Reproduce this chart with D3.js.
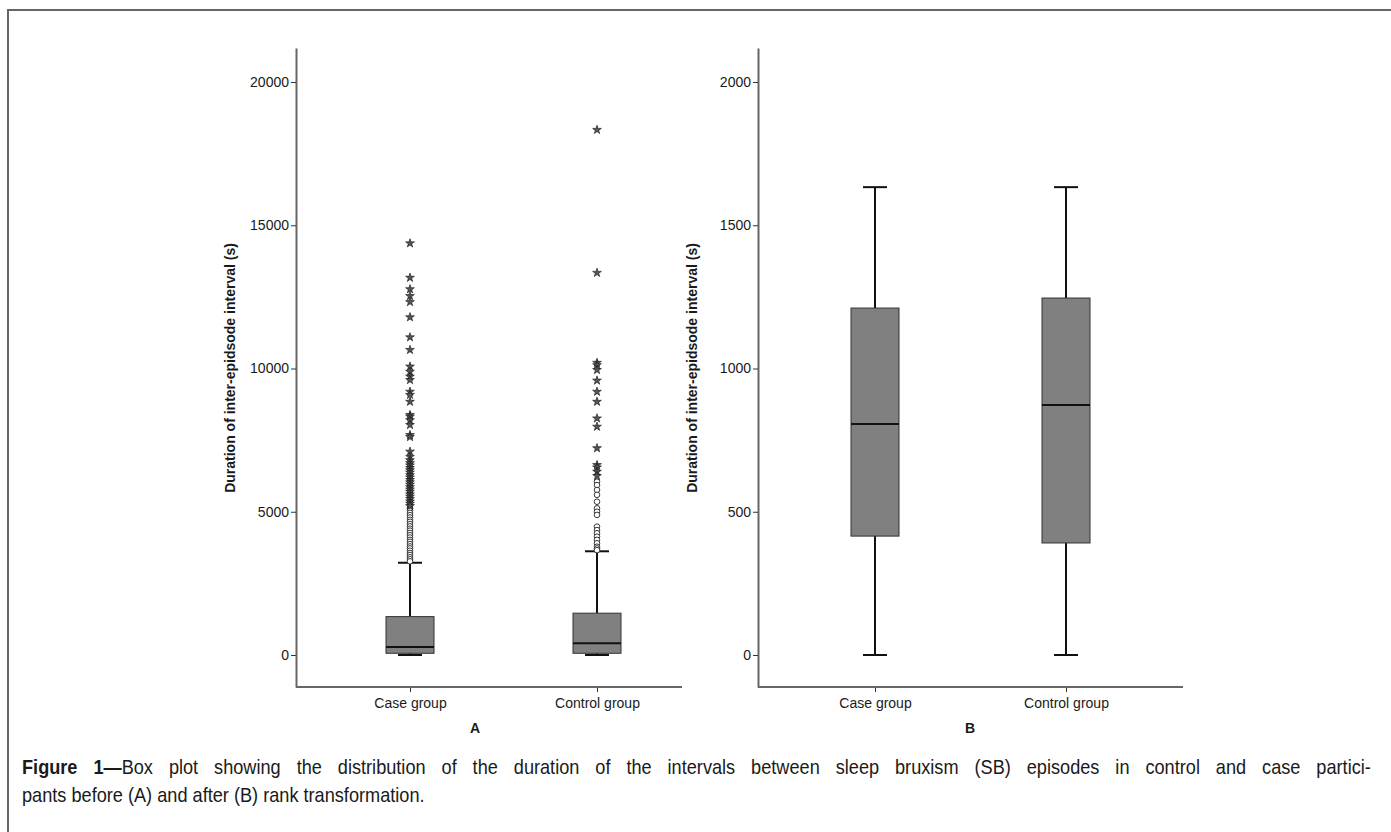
<!DOCTYPE html>
<html>
<head>
<meta charset="utf-8">
<script src="https://cdn.jsdelivr.net/npm/d3@7"></script>
<style>
  body { margin: 0; background: #fff; }
  svg { display: block; }
  text { font-family: "Liberation Sans", Arial, sans-serif; fill: #1a1a1a; }
</style>
</head>
<body>
<svg width="1391" height="832"></svg>
<script>
// data
const groups = ["Case group", "Control group"];
const ticksA = [0, 5000, 10000, 15000, 20000];
const ticksB = [0, 500, 1000, 1500, 2000];

// low whisker, Q1, median, Q3, high whisker
const caseA = [0, 60, 280, 1340, 3220];
const controlA = [0, 60, 410, 1460, 3620];
const caseB = [0, 415, 806, 1211, 1633];
const controlB = [0, 391, 873, 1246, 1633];

// outliers (stars = extreme, circles = mild)
const caseStars = [14370, 13170, 12770, 12530, 12320, 11790, 11090, 10650, 10070, 9890, 9720, 9600,
  9190, 9080, 8840, 8380, 8320, 8200, 8030, 7680, 7610, 7100, 6920, 6800, 6700, 6620, 6530, 6450,
  6370, 6280, 6200, 6110, 6030, 5950, 5860, 5780, 5700, 5610, 5530, 5450, 5360, 5280, 5200];
const caseCircles = [5120, 5040, 4960, 4880, 4800, 4720, 4650, 4570, 4490, 4410, 4340, 4260, 4180,
  4100, 4020, 3950, 3870, 3790, 3720, 3640, 3560, 3490, 3410, 3340, 3270];
const controlStars = [18330, 13340, 10200, 10120, 9950, 9580, 9190, 8840, 8260, 7970, 7220,
  6630, 6550, 6400, 6250];
const controlCircles = [6050, 5930, 5760, 5590, 5350, 5120, 5000, 4890, 4480, 4360, 4250, 4130,
  4020, 3900, 3780, 3720, 3660];

const svg = d3.select("svg");

// frame of the figure
svg.append("path").attr("d", "M1391,10H8V832")
  .attr("fill", "none").attr("stroke", "#666").attr("stroke-width", 2);

function panel(cfg) {
  const g = svg.append("g");
  // y scale: top tick value sits at y 82, zero at 655, axis spans 48..687
  let y = d3.scaleLinear().domain([0, cfg.ticks[cfg.ticks.length - 1]]).range([655, 82]);
  y = y.copy().domain([y.invert(687), y.invert(48)]).range([687, 48]);
  const x = d3.scalePoint().domain(groups).range(cfg.cats);

  const ya = g.append("g").attr("transform", `translate(${cfg.left},0)`)
    .call(d3.axisLeft(y).tickValues(cfg.ticks).tickSize(5).tickSizeOuter(0).tickPadding(2)
      .tickFormat(d3.format("d")));
  ya.select(".domain").attr("stroke", "#666").attr("stroke-width", 2);
  ya.selectAll(".tick line").attr("stroke", "#333");
  ya.selectAll(".tick text").attr("font-size", 14).attr("fill", "#1a1a1a")
    .attr("font-family", "Liberation Sans, Arial, sans-serif");

  const xa = g.append("g").attr("transform", "translate(0,687)")
    .call(d3.axisBottom(x).tickSize(5).tickPadding(6));
  xa.select(".domain").remove();
  xa.selectAll(".tick line").attr("stroke", "#333");
  xa.selectAll(".tick text").attr("font-size", 14).attr("fill", "#1a1a1a")
    .attr("font-family", "Liberation Sans, Arial, sans-serif");
  g.append("line").attr("x1", cfg.left).attr("x2", cfg.right)
    .attr("y1", 687).attr("y2", 687).attr("stroke", "#666").attr("stroke-width", 2);

  g.append("text").attr("transform", `translate(${cfg.left - 61},368) rotate(-90)`)
    .attr("text-anchor", "middle").attr("font-size", 14).attr("font-weight", "bold")
    .text("Duration of inter-epidsode interval (s)");
  g.append("text").attr("x", cfg.letterX).attr("y", 733).attr("text-anchor", "middle")
    .attr("font-size", 14).attr("font-weight", "bold").text(cfg.letter);

  const bw = 48, cw = 24;
  cfg.stats.forEach((s, i) => {
    const cx = x(groups[i]);
    const b = g.append("g");
    // whiskers
    b.append("line").attr("x1", cx).attr("x2", cx).attr("y1", y(s[3])).attr("y2", y(s[4]))
      .attr("stroke", "#111").attr("stroke-width", 2);
    b.append("line").attr("x1", cx).attr("x2", cx).attr("y1", y(s[1])).attr("y2", y(s[0]))
      .attr("stroke", "#111").attr("stroke-width", 2);
    [s[0], s[4]].forEach(v => b.append("line")
      .attr("x1", cx - cw / 2).attr("x2", cx + cw / 2).attr("y1", y(v)).attr("y2", y(v))
      .attr("stroke", "#111").attr("stroke-width", 2));
    b.append("rect").attr("x", cx - bw / 2).attr("width", bw)
      .attr("y", y(s[3])).attr("height", y(s[1]) - y(s[3]))
      .attr("fill", "#808080").attr("stroke", "#333").attr("stroke-width", 1);
    b.append("line").attr("x1", cx - bw / 2).attr("x2", cx + bw / 2)
      .attr("y1", y(s[2])).attr("y2", y(s[2])).attr("stroke", "#111").attr("stroke-width", 2);

    const circ = cfg.circles[i] || [], stars = cfg.stars[i] || [];
    b.selectAll("circle").data(circ).join("circle")
      .attr("cx", cx).attr("cy", d => y(d)).attr("r", 2.8)
      .attr("fill", "#fff").attr("stroke", "#222").attr("stroke-width", 0.9);
    b.selectAll("path.star").data(stars).join("path").attr("class", "star")
      .attr("d", d3.symbol().type(d3.symbolStar).size(24))
      .attr("transform", d => `translate(${cx},${y(d)})`)
      .attr("fill", "#555").attr("stroke", "#111").attr("stroke-width", 0.6);
  });
}

panel({ left: 296, right: 682, cats: [410, 597], ticks: ticksA, letter: "A", letterX: 475,
  stats: [caseA, controlA], stars: [caseStars, controlStars], circles: [caseCircles, controlCircles] });
panel({ left: 758, right: 1183, cats: [875, 1066], ticks: ticksB, letter: "B", letterX: 970,
  stats: [caseB, controlB], stars: [], circles: [] });

// caption: x-scaled so line 2 has the reference width, line 1 justified to the right edge
const cap = svg.append("g").attr("font-size", 19.5);
const l1 = cap.append("text").attr("y", 774);
l1.append("tspan").attr("font-weight", "bold").text("Figure 1\u2014");
l1.append("tspan").text("Box plot showing the distribution of the duration of the intervals between sleep bruxism (SB) episodes in control and case partici-");
const l2 = cap.append("text").attr("y", 802)
  .text("pants before (A) and after (B) rank transformation.");

const k = 403 / l2.node().getComputedTextLength();
const w1 = l1.node().getComputedTextLength();
const spaces = (l1.text().match(/ /g) || []).length;
const extra = (1350 / k - w1) / spaces;
if (extra > 0) l1.attr("word-spacing", extra);
else l1.attr("textLength", 1350 / k).attr("lengthAdjust", "spacingAndGlyphs");
cap.attr("transform", `translate(22,0) scale(${k},1)`);
</script>
</body>
</html>
